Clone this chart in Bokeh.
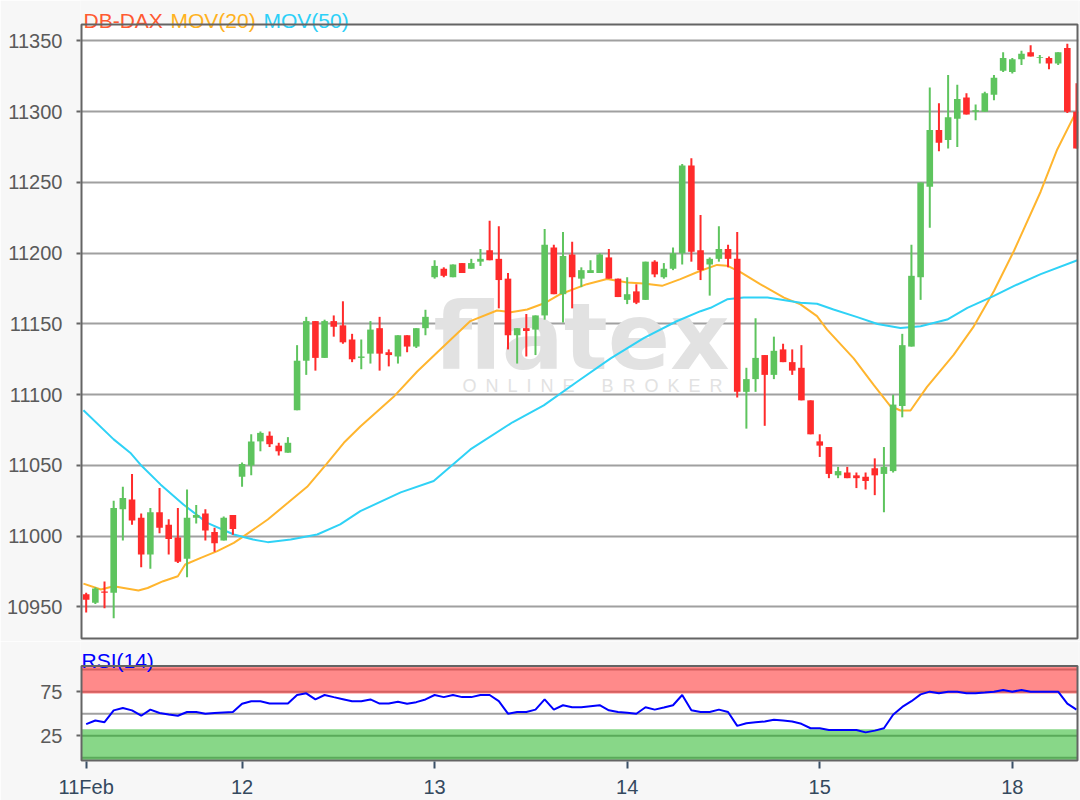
from bokeh.plotting import figure
from bokeh.models import (Range1d, Label, FixedTicker, BoxAnnotation,
                          ColumnDataSource, BasicTickFormatter)
from bokeh.core.properties import value
from bokeh.layouts import column
from bokeh.embed import file_html
from bokeh.resources import INLINE

FONT = "Liberation Sans"

# ---------------- data ----------------
title_parts = ["DB-DAX", "MOV(20)", "MOV(50)"]
day_labels = ["11Feb", "12", "13", "14", "15", "18"]
day_starts = [0, 17, 38, 59, 80, 101]

opens = [10959, 10953, 10961, 10960, 11019, 11026, 11013, 10987, 11017, 11008, 10999, 10984, 11013, 11016, 11003, 10997, 11015,
         11042, 11050, 11067, 11071, 11064, 11059, 11089, 11124, 11152, 11126, 11152, 11149, 11139, 11126, 11129, 11147, 11130, 11127, 11142, 11134, 11147,
         11183, 11189, 11183, 11193, 11189, 11194, 11202, 11196, 11182, 11142, 11147, 11146, 11156, 11204, 11171, 11199, 11182, 11186, 11186,
         11197, 11182, 11167, 11173, 11167, 11194, 11183, 11189, 11200, 11262, 11202, 11192, 11196, 11203, 11196,
         11102, 11111, 11128, 11114, 11132, 11123, 11119, 11096,
         11067, 11063, 11043, 11045, 11043, 11042, 11048, 11044, 11046, 11092, 11134, 11183, 11247, 11287, 11280, 11295, 11310, 11300, 11300, 11312,
         11329, 11328, 11337, 11342, 11338, 11338, 11334, 11345, 11300]
highs = [10960, 10964, 10968, 11025, 11035, 11044, 11016, 11020, 11034, 11012, 11020, 11033, 11022, 11019, 11006, 11014, 11015,
         11052, 11072, 11074, 11074, 11066, 11070, 11135, 11155, 11152, 11153, 11156, 11166, 11143, 11139, 11152, 11155, 11132, 11142, 11142, 11147, 11160,
         11195, 11190, 11192, 11193, 11196, 11203, 11223, 11219, 11186, 11147, 11157, 11156, 11217, 11206, 11215, 11208, 11190, 11195, 11200,
         11203, 11182, 11183, 11178, 11194, 11195, 11193, 11204, 11263, 11267, 11227, 11197, 11219, 11206, 11215,
         11119, 11154, 11128, 11141, 11136, 11132, 11135, 11096,
         11072, 11063, 11049, 11049, 11045, 11045, 11055, 11063, 11100, 11143, 11206, 11250, 11317, 11306, 11326, 11319, 11313, 11305, 11314, 11326,
         11342, 11338, 11343, 11347, 11340, 11339, 11342, 11348, 11320]
lows = [10946, 10952, 10949, 10942, 10997, 11008, 10978, 10977, 11002, 10987, 10981, 10971, 11009, 10997, 10989, 10997, 11001,
        11035, 11043, 11060, 11063, 11057, 11059, 11089, 11114, 11117, 11126, 11141, 11136, 11123, 11118, 11122, 11117, 11120, 11122, 11130, 11133, 11142,
        11182, 11183, 11183, 11186, 11189, 11191, 11195, 11161, 11132, 11122, 11127, 11128, 11153, 11171, 11151, 11161, 11176, 11186, 11186,
        11182, 11169, 11164, 11164, 11167, 11183, 11182, 11188, 11192, 11194, 11181, 11170, 11194, 11190, 11098,
        11076, 11102, 11078, 11111, 11123, 11114, 11096, 11072,
        11056, 11041, 11041, 11041, 11034, 11033, 11029, 11017, 11045, 11084, 11134, 11167, 11218, 11272, 11274, 11275, 11298, 11294, 11300, 11308,
        11328, 11327, 11333, 11339, 11334, 11330, 11333, 11299, 11274]
closes = [10955, 10963, 10960, 11020, 11027, 11011, 10987, 11017, 11006, 10998, 10982, 11013, 11015, 11004, 10995, 11013, 11005,
          11051, 11067, 11073, 11065, 11060, 11066, 11124, 11152, 11126, 11152, 11148, 11137, 11125, 11127, 11146, 11129, 11128, 11142, 11134, 11147, 11155,
          11191, 11184, 11192, 11186, 11193, 11196, 11195, 11181, 11142, 11147, 11145, 11156, 11206, 11171, 11198, 11183, 11188, 11188, 11199,
          11182, 11169, 11171, 11165, 11194, 11185, 11189, 11200, 11262, 11201, 11188, 11196, 11203, 11196, 11102,
          11111, 11126, 11114, 11131, 11123, 11117, 11096, 11072,
          11064, 11044, 11046, 11041, 11041, 11039, 11043, 11049, 11093, 11135, 11184, 11250, 11287, 11278, 11296, 11309, 11298, 11301, 11313, 11324,
          11338, 11337, 11341, 11339, 11338.5, 11334, 11342, 11300, 11274]

ma20_pos = [-0.3, 1.6, 3.0, 4.1, 5.7, 6.7, 8.4, 10.0, 10.8, 12.5, 14.3, 16.1, 17.2, 19.8, 22.0, 24.1, 26.2, 28.1, 29.9,
            33.5, 36.1, 38.3, 41.9, 44.8, 46.3, 48.1, 50.1, 51.7, 54.6, 56.8, 59.0, 60.8, 62.8, 64.8, 67.0, 68.8, 69.9,
            71.4, 73.5, 76.1, 77.9, 79.7, 80.8, 83.7, 85.9, 87.7, 88.8, 89.9, 91.7, 94.6, 96.8, 99.0, 101.2, 104.1, 105.9, 107.7, 108.1]
ma20_val = [10966.5, 10962.3, 10964.6, 10963.4, 10961.6, 10963.4, 10968.2, 10971.7, 10980.0, 10984.7, 10989.4, 10995.3, 11000.0,
            11011.8, 11023.6, 11034.9, 11051.0, 11066.0, 11077.5, 11098.3, 11116.4, 11130.0, 11152.0, 11159.5, 11158.3, 11160.2,
            11165.0, 11171.0, 11178.1, 11181.7, 11179.3, 11178.6, 11176.9, 11181.7, 11187.6, 11191.7, 11191.2, 11186.4, 11178.1,
            11168.6, 11163.8, 11155.5, 11146.0, 11125.7, 11106.7, 11092.0, 11088.8, 11088.8, 11105.5, 11128.1, 11148.3, 11173.3,
            11201.9, 11243.6, 11273.3, 11296.5, 11300.0]

ma50_pos = [-0.3, 3.0, 4.8, 5.9, 8.1, 10.6, 13.2, 16.1, 18.2, 19.8, 22.3, 25.2, 27.7, 29.9, 34.3, 37.9, 41.9, 46.5, 49.9,
            53.5, 57.2, 60.8, 64.4, 67.0, 68.1, 69.9, 71.7, 74.3, 77.9, 79.7, 81.5, 84.1, 86.3, 88.8, 91.0, 93.9, 96.1,
            99.0, 101.2, 104.1, 108.1]
ma50_val = [11089.0, 11068.4, 11059.0, 11050.7, 11036.6, 11022.4, 11009.4, 11001.2, 10997.6, 10995.8, 10997.6, 11001.2,
            11008.3, 11017.7, 11031.0, 11039.0, 11061.3, 11080.5, 11092.4, 11109.0, 11125.7, 11140.0, 11151.9, 11159.0,
            11161.4, 11167.4, 11168.6, 11168.6, 11165.0, 11164.3, 11160.2, 11154.8, 11150.0, 11147.1, 11148.3, 11153.1,
            11161.4, 11169.8, 11176.9, 11185.2, 11195.0]

rsi = [38.1, 42.3, 40.4, 53.8, 56.5, 53.8, 47.7, 54.6, 50.8, 49.2, 47.7, 51.9, 51.9, 50.0, 50.8, 51.5, 51.9,
       61.2, 64.2, 64.2, 61.5, 61.5, 61.5, 71.2, 73.1, 66.2, 71.2, 68.8, 66.5, 64.2, 64.2, 66.2, 61.5, 61.5, 63.5, 61.2, 63.1, 66.2,
       71.2, 68.8, 71.2, 68.8, 68.8, 71.2, 71.2, 64.2, 50.0, 51.9, 51.9, 54.6, 66.2, 54.6, 59.6, 57.3, 57.3, 58.5, 59.6, 53.8, 51.9,
       51.0, 50.0, 57.3, 54.6, 57.0, 59.6, 71.2, 53.8, 51.9, 51.9, 54.6, 51.9, 36.2, 39.2, 40.2, 41.2, 43.1, 42.2, 41.2, 38.5, 33.5,
       33.5, 31.5, 31.5, 31.5, 31.5, 28.8, 30.8, 33.5, 48.8, 57.7, 64.2, 71.9, 75.0, 73.1, 75.0, 75.0, 73.1, 73.1, 74.0, 75.0,
       76.9, 75.0, 76.9, 75.0, 75.0, 75.0, 75.0, 61.5, 54.6]

price_ticks = [10950, 11000, 11050, 11100, 11150, 11200, 11250, 11300, 11350]
rsi_ticks = [25, 75]
rsi_levels = [100, 75, 25, 0, 50]

# ---------------- layout (page pixels) ----------------
W = 1080
BOX_L, BOX_W = 81.0, 996.0           # visible plot box, left edge / width
X0, X1 = -0.51, 108.11               # index range covered by the plot box
XPX = (X1 - X0) / BOX_W              # index units per pixel
xr = Range1d(X0 - XPX, X1 + XPX)     # frame = box + 1px each side

MAIN_TOP, MAIN_BOT = 24.0, 638.0     # price box top / bottom
Y0, Y1 = 10927.7, 11361.6
KY = (MAIN_BOT - MAIN_TOP) / (Y1 - Y0)   # px per point
MAIN_FIG_H = 641                     # frame 0..639
RSI_TOP, RSI_BOT = 666.0, 762.0
R0, R1 = -3.1, 104.0
KR = (RSI_BOT - RSI_TOP) / (R1 - R0)
RSI_FIG_H = 800 - MAIN_FIG_H         # frame 641..763


def idx_at(px):
    return X0 + (px - BOX_L) * XPX


def val_at(py):
    return Y1 - (py - MAIN_TOP) / KY


def rsi_at(py):
    return R1 - (py - RSI_TOP) / KR


GREEN = "#5EC45E"
RED = "#FF2B2B"
AXC = "#646464"
BG = "#F7F7F7"

n = len(opens)
xs = list(range(n))
colors = [GREEN if c >= o else RED for o, c in zip(opens, closes)]
src = ColumnDataSource(dict(
    x=xs, h=highs, l=lows,
    top=[max(o, c) for o, c in zip(opens, closes)],
    bottom=[min(o, c) for o, c in zip(opens, closes)],
    color=colors))


def style_yaxis(f, ticks):
    f.yaxis.ticker = FixedTicker(ticks=ticks)
    f.yaxis.formatter = BasicTickFormatter(use_scientific=False)
    f.yaxis.axis_line_color = None
    f.yaxis.major_tick_line_color = AXC
    f.yaxis.major_tick_line_width = 2
    f.yaxis.major_tick_in = 0
    f.yaxis.major_tick_out = 4
    f.yaxis.minor_tick_line_color = None
    f.yaxis.major_label_standoff = 14
    f.yaxis.major_label_text_font = FONT
    f.yaxis.major_label_text_font_size = "20px"
    f.yaxis.major_label_text_color = "#5A5A5A"


# ---------------- main price chart ----------------
p = figure(width=W, height=MAIN_FIG_H, x_range=xr, y_range=Range1d(val_at(MAIN_BOT + 1), val_at(0)),
           output_backend="svg", toolbar_location=None,
           min_border_left=80, min_border_right=2, min_border_top=0, min_border_bottom=2)
p.border_fill_color = BG
p.background_fill_color = BG
p.outline_line_color = None
p.xaxis.visible = False
p.xgrid.visible = False
style_yaxis(p, price_ticks)
p.ygrid.ticker = FixedTicker(ticks=price_ticks)
p.ygrid.grid_line_color = "#A0A0A0"
p.ygrid.grid_line_width = 2

# white plot box (below the grid) and its border (on top)
p.quad(left=[X0], right=[X1], bottom=[Y0], top=[Y1], fill_color="white", line_color=None, level="image")

# watermark
p.add_layout(Label(x=idx_at(581), y=val_at(337), text="flatex", text_align="center",
                   text_baseline="alphabetic", text_font="DejaVu Sans", text_font_style="bold",
                   text_font_size="92px", text_color="#E2E2E2", level="underlay"))
p.add_layout(Label(x=idx_at(592), y=val_at(385),
                   text="O\u2002N\u2002L\u2002I\u2002N\u2002E\u2003\u2002B\u2002R\u2002O\u2002K\u2002E\u2002R",
                   text_align="center", text_baseline="alphabetic", text_font=FONT,
                   text_font_size="18px", text_color="#E2E2E2", level="underlay"))

p.line(ma20_pos, ma20_val, line_color="#FFB52E", line_width=2)
p.line(ma50_pos, ma50_val, line_color="#2FD2F6", line_width=2)
p.segment(x0="x", y0="l", x1="x", y1="h", line_color="color", line_width=2, source=src)
p.vbar(x="x", width=0.72, top="top", bottom="bottom", fill_color="color", line_color=None, source=src)
p.quad(left=[X0], right=[X1], bottom=[Y0], top=[Y1], fill_color=None, line_color=AXC, line_width=2, level="guide")

p.text(x=[idx_at(83), idx_at(170), idx_at(263)], y=[val_at(20.0)] * 3, text=title_parts,
       text_color=["#FF5A32", "#FFB21E", "#2CD0F8"], text_font=value(FONT),
       text_font_size=value("21px"), text_align="left", text_baseline="alphabetic")

# ---------------- RSI panel ----------------
q = figure(width=W, height=RSI_FIG_H, x_range=xr,
           y_range=Range1d(rsi_at(RSI_BOT + 1), rsi_at(MAIN_FIG_H)),
           output_backend="svg", toolbar_location=None,
           min_border_left=80, min_border_right=2, min_border_top=0, min_border_bottom=37)
q.border_fill_color = BG
q.background_fill_color = BG
q.outline_line_color = None
q.xgrid.visible = False
q.ygrid.visible = False

q.quad(left=[X0], right=[X1], bottom=[R0], top=[R1], fill_color="white", line_color=None, level="image")
q.add_layout(BoxAnnotation(left=X0, right=X1, bottom=73, top=R1, fill_color="#FF8A8A", fill_alpha=1.0,
                           line_color=None, level="underlay"))
q.add_layout(BoxAnnotation(left=X0, right=X1, bottom=R0, top=32.5, fill_color="#88D788", fill_alpha=1.0,
                           line_color=None, level="underlay"))
level_colors = ["#D45F5F", "#D45F5F", "#5AAA5A", "#5AAA5A", "#A0A0A0"]
q.segment(x0=[X0] * len(rsi_levels), y0=rsi_levels, x1=[X1] * len(rsi_levels), y1=rsi_levels,
          line_color=level_colors, line_width=2)

q.line(xs, rsi, line_color="#0000FF", line_width=2)
q.quad(left=[X0], right=[X1], bottom=[R0], top=[R1], fill_color=None, line_color=AXC, line_width=2, level="guide")

q.text(x=[idx_at(81)], y=[rsi_at(660.5)], text=["RSI(14)"], text_color="#0000FF", text_font=value(FONT),
       text_font_size=value("21px"), text_align="left", text_baseline="alphabetic")

style_yaxis(q, rsi_ticks)

q.xaxis.ticker = FixedTicker(ticks=day_starts)
q.xaxis.major_label_overrides = {d: lab for d, lab in zip(day_starts, day_labels)}
q.xaxis.axis_line_color = None
q.xaxis.major_tick_line_color = "#3A4F66"
q.xaxis.major_tick_line_width = 2
q.xaxis.major_tick_in = 0
q.xaxis.major_tick_out = 7
q.xaxis.minor_tick_line_color = None
q.xaxis.major_label_standoff = 7
q.xaxis.major_label_text_align = "left"
q.xaxis.major_label_text_font = FONT
q.xaxis.major_label_text_font_size = "20px"
q.xaxis.major_label_text_color = "#34495E"

layout = column(p, q)
open("out.html", "w").write(file_html(layout, INLINE))
